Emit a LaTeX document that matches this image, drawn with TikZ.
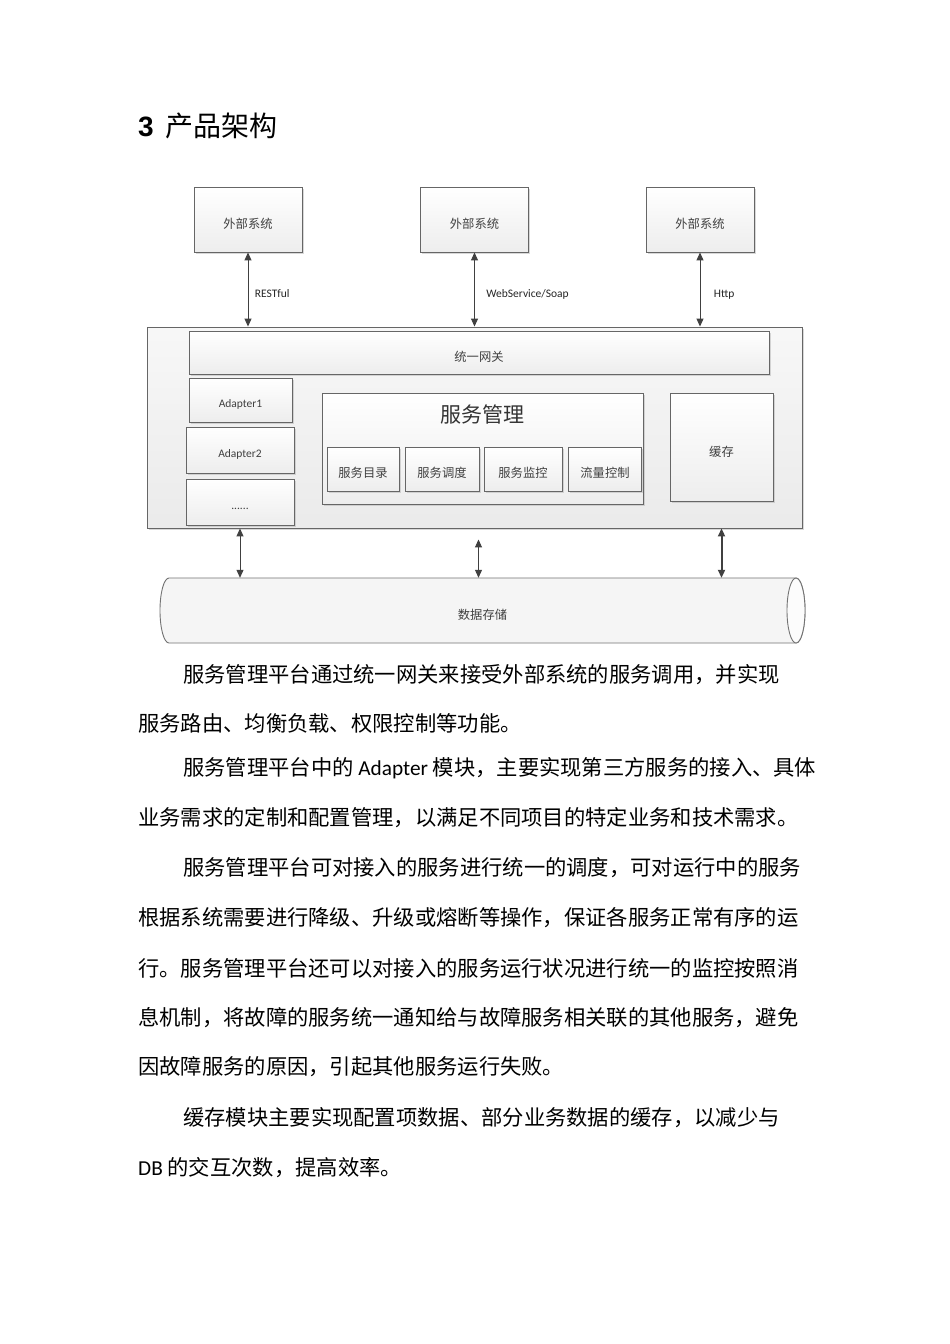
\documentclass[tikz,border=0pt]{standalone}
\usepackage{fontspec}
\setmainfont{Noto Sans CJK SC}
\newfontfamily\latfont{Carlito}
\newfontfamily\numfont{Liberation Sans}
\usetikzlibrary{arrows.meta,shadows}
\tikzset{>={Triangle[length=8pt,width=7pt]}}
\tikzset{
  box/.style={draw=black!60, line width=0.9pt, top color=white, bottom color=black!7,
    inner sep=0pt, text=black!75,
    drop shadow={shadow xshift=1.8pt, shadow yshift=-1.8pt, fill=black!30}},
  small/.style={font=\fontsize{12.3}{14}\selectfont, text height=17pt, text depth=0pt},
  latsmall/.style={font=\latfont\fontsize{11.5}{13}\selectfont, text height=15pt, text depth=0pt},
  arr/.style={<->, draw=black!75, line width=1pt},
  cyl/.style={draw=black!55, line width=0.9pt},
  body/.style={anchor=west, inner sep=0pt, font=\fontsize{21.3}{26}\selectfont}
}

\begin{document}
\begin{tikzpicture}[x=1pt, y=-1pt]
    \fill [white] (0,0) rectangle (950,1344);
    \useasboundingbox (0,0) rectangle (950,1344);

    \node [anchor=west, inner sep=0pt, font=\fontsize{28}{32}\selectfont] (title) at (138,126)
      {{\numfont\bfseries 3}\hspace{12pt}产品架构};

    % external systems
    \node [box, small, minimum width=108pt, minimum height=65pt] (ext1) at (248,219.5) {外部系统};
    \node [box, small, minimum width=108pt, minimum height=65pt] (ext2) at (474.5,219.5) {外部系统};
    \node [box, small, minimum width=108pt, minimum height=65pt] (ext3) at (700,219.5) {外部系统};

    % platform
    \node [box, top color=black!3, bottom color=black!8, minimum width=655pt, minimum height=201pt] (platform) at (474.5,427.5) {};
    \node [box, small, minimum width=580pt, minimum height=43pt] (gateway) at (479,352.5) {统一网关};
    \node [box, latsmall, minimum width=103pt, minimum height=44pt] (adapter1) at (240.5,400) {Adapter1};
    \node [box, latsmall, minimum width=108pt, minimum height=46pt] (adapter2) at (240,450) {Adapter2};
    \node [box, latsmall, minimum width=108pt, minimum height=46pt] (adaptermore) at (240,502) {......};

    \node [box, minimum width=321pt, minimum height=111pt] (svcmgr) at (482.5,448.5) {};
    \node [inner sep=0pt, text=black!80, font=\fontsize{21}{24}\selectfont] (svctitle) at (482.5,414) {服务管理};
    \node [box, small, minimum width=72pt, minimum height=44pt] (catalog) at (363,469) {服务目录};
    \node [box, small, minimum width=74pt, minimum height=44pt] (sched) at (442,469) {服务调度};
    \node [box, small, minimum width=78pt, minimum height=44pt] (monitor) at (523,469) {服务监控};
    \node [box, small, minimum width=73pt, minimum height=44pt] (flow) at (605,469) {流量控制};

    \node [box, small, minimum width=103pt, minimum height=108pt] (cache) at (721.5,447.5) {缓存};

    % storage (drawn as a lying cylinder)
    \draw [cyl, fill=black!4] (169,578) -- (796,578)
      .. controls (801,578) and (805,592.5) .. (805,610.5)
      .. controls (805,628.5) and (801,643) .. (796,643) -- (169,643)
      .. controls (164,643) and (160,628.5) .. (160,610.5)
      .. controls (160,592.5) and (164,578) .. (169,578) -- cycle;
    \draw [cyl, fill=black!1] (796,610.5) ellipse [x radius=9, y radius=32.5];
    \node [small, inner sep=0pt, text=black!75, minimum width=645pt, minimum height=65pt] (storage) at (482.5,610.5) {数据存储};

    % connectors
    \draw [arr] (ext1) -- (ext1 |- platform.north) node [midway, right=3pt, latsmall, text=black!85] (lblrest) {RESTful};
    \draw [arr] (ext2) -- (ext2 |- platform.north) node [midway, right=8pt, latsmall, text=black!85] (lblsoap) {WebService/Soap};
    \draw [arr] (ext3) -- (ext3 |- platform.north) node [midway, right=10pt, latsmall, text=black!85] (lblhttp) {Http};

    \draw [arr] (adaptermore |- platform.south) -- (adaptermore |- storage.north);
    \draw [arr] ([xshift=-4pt, yshift=-11pt]svcmgr |- platform.south) -- ([xshift=-4pt]svcmgr |- storage.north);
    \draw [arr, line width=2pt] (cache |- platform.south) -- (cache |- storage.north);

    % text
    \node [body] (line1) at (183,675) {服务管理平台通过统一网关来接受外部系统的服务调用，并实现};
    \node [body] (line2) at (138,723) {服务路由、均衡负载、权限控制等功能。};
    \node [body] (line3) at (183,768) {服务管理平台中的 {\latfont Adapter} 模块，主要实现第三方服务的接入、具体};
    \node [body] (line4) at (138,818) {业务需求的定制和配置管理，以满足不同项目的特定业务和技术需求。};
    \node [body] (line5) at (183,868) {服务管理平台可对接入的服务进行统一的调度，可对运行中的服务};
    \node [body] (line6) at (138,918) {根据系统需要进行降级、升级或熔断等操作，保证各服务正常有序的运};
    \node [body] (line7) at (138,968) {行。服务管理平台还可以对接入的服务运行状况进行统一的监控按照消};
    \node [body] (line8) at (138,1018) {息机制，将故障的服务统一通知给与故障服务相关联的其他服务，避免};
    \node [body] (line9) at (138,1067) {因故障服务的原因，引起其他服务运行失败。};
    \node [body] (line10) at (183,1118) {缓存模块主要实现配置项数据、部分业务数据的缓存，以减少与};
    \node [body] (line11) at (138,1168) {{\latfont DB} 的交互次数，提高效率。};
\end{tikzpicture}
\end{document}
